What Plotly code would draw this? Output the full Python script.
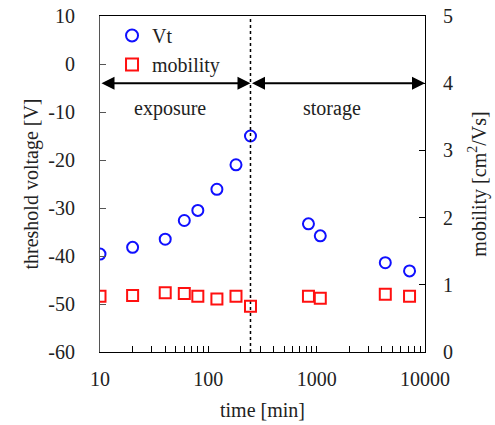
import math
import plotly.graph_objects as go

# Data
time_min = [10, 20, 40, 60, 80, 120, 180, 245, 840, 1080, 4300, 7200]
vt = [-39.6, -38.2, -36.5, -32.6, -30.5, -26.1, -21.0, -15.0, -33.3, -35.8, -41.4, -43.1]
mobility = [0.83, 0.84, 0.88, 0.87, 0.83, 0.79, 0.83, 0.68, 0.83, 0.80, 0.86, 0.83]
divider_time = 245
arrow_level = -4.0
x_range = [10, 10000]
major_ticks = [10, 100, 1000, 10000]
vt_ticks = [-60, -50, -40, -30, -20, -10, 0, 10]
vt_ticklabels = ["-60", "-50", "-40", "-30", "-20", "-10", "0", "10"]
mob_ticks = [0, 1, 2, 3, 4, 5]

FONT = "Liberation Serif"
TXT = "#222222"
FS = 20

minor = []
for d in [10, 100, 1000]:
    for k in range(2, 10):
        minor.append(d * k)
tickvals = sorted(major_ticks + minor)
ticktext = [str(v) if v in major_ticks else "" for v in tickvals]

fig = go.Figure()
fig.add_trace(go.Scatter(
    x=time_min, y=vt, mode="markers", name="Vt",
    marker=dict(symbol="circle-open", size=11, color="#1010ff", line=dict(width=2, color="#1010ff")),
))
fig.add_trace(go.Scatter(
    x=time_min, y=mobility, mode="markers", name="mobility", yaxis="y2",
    marker=dict(symbol="square-open", size=11, color="#ff1010", line=dict(width=2, color="#ff1010")),
))
# dotted divider
fig.add_trace(go.Scatter(
    x=[divider_time, divider_time], y=[vt_ticks[0], vt_ticks[-1]], mode="lines", showlegend=False,
    line=dict(color="black", width=1.5, dash="dot"), hoverinfo="skip",
))

lx0 = math.log10(x_range[0])
lx1 = math.log10(x_range[1])
ld = math.log10(divider_time)
for a, b in [(lx0, ld), (ld, lx1)]:
    fig.add_annotation(
        x=b, y=arrow_level, ax=a, ay=arrow_level, xref="x", yref="y", axref="x", ayref="y",
        text="", showarrow=True, arrowhead=2, startarrowhead=2, arrowside="end+start",
        arrowsize=1.3, arrowwidth=2, arrowcolor="black", standoff=0, startstandoff=0,
    )

fig.add_annotation(x=math.log10(44), y=-9.2, xref="x", yref="y", text="exposure",
                   showarrow=False, font=dict(family=FONT, size=FS, color=TXT))
fig.add_annotation(x=math.log10(1380), y=-9.2, xref="x", yref="y", text="storage",
                   showarrow=False, font=dict(family=FONT, size=FS, color=TXT))

fig.update_layout(
    width=495, height=425,
    margin=dict(l=100, r=70, t=16, b=73),
    paper_bgcolor="white", plot_bgcolor="white",
    font=dict(family=FONT, size=FS, color=TXT),
    showlegend=True,
    legend=dict(x=0.037, y=1.0, xanchor="left", yanchor="top", bgcolor="rgba(0,0,0,0)",
                font=dict(family=FONT, size=FS, color=TXT), tracegroupgap=0,
                itemsizing="constant"),
    xaxis=dict(
        type="log", range=[lx0, lx1], tickvals=tickvals, ticktext=ticktext,
        ticks="inside", ticklen=6, tickcolor="black", showline=True, linecolor="black",
        linewidth=1, mirror=True, showgrid=False, zeroline=False, automargin=False,
        ticklabelstandoff=9, tickfont=dict(family=FONT, size=FS, color=TXT),
        title=dict(text="time [min]", standoff=13, font=dict(family=FONT, size=FS, color=TXT)),
    ),
    yaxis=dict(
        range=[vt_ticks[0], vt_ticks[-1]], tickvals=vt_ticks, ticktext=vt_ticklabels,
        ticks="inside", ticklen=6, tickcolor="#555555",
        showline=True, linecolor="#555555", linewidth=1, showgrid=False, zeroline=False,
        automargin=False,
        ticklabelstandoff=20, tickfont=dict(family=FONT, size=FS, color=TXT),
        title=dict(text="threshold voltage [V]", standoff=4, font=dict(family=FONT, size=FS, color=TXT)),
    ),
    yaxis2=dict(
        range=[mob_ticks[0], mob_ticks[-1]], tickvals=mob_ticks, overlaying="y", side="right",
        ticks="inside", ticklen=6,
        tickcolor="black", showline=True, linecolor="black", linewidth=1, showgrid=False,
        zeroline=False, automargin=False, ticklabelstandoff=13,
        tickfont=dict(family=FONT, size=FS, color=TXT),
        title=dict(text="mobility [cm<sup>2</sup>/Vs]", standoff=19, font=dict(family=FONT, size=FS, color=TXT)),
    ),
)

fig.write_html("out.html", config={"displayModeBar": False})
# remove default page margins so the figure sits at the window origin
with open("out.html", "r", encoding="utf-8") as f:
    html = f.read()
html = html.replace("<head>", "<head><style>html,body{margin:0;padding:0;overflow:hidden;}</style>", 1)
with open("out.html", "w", encoding="utf-8") as f:
    f.write(html)
